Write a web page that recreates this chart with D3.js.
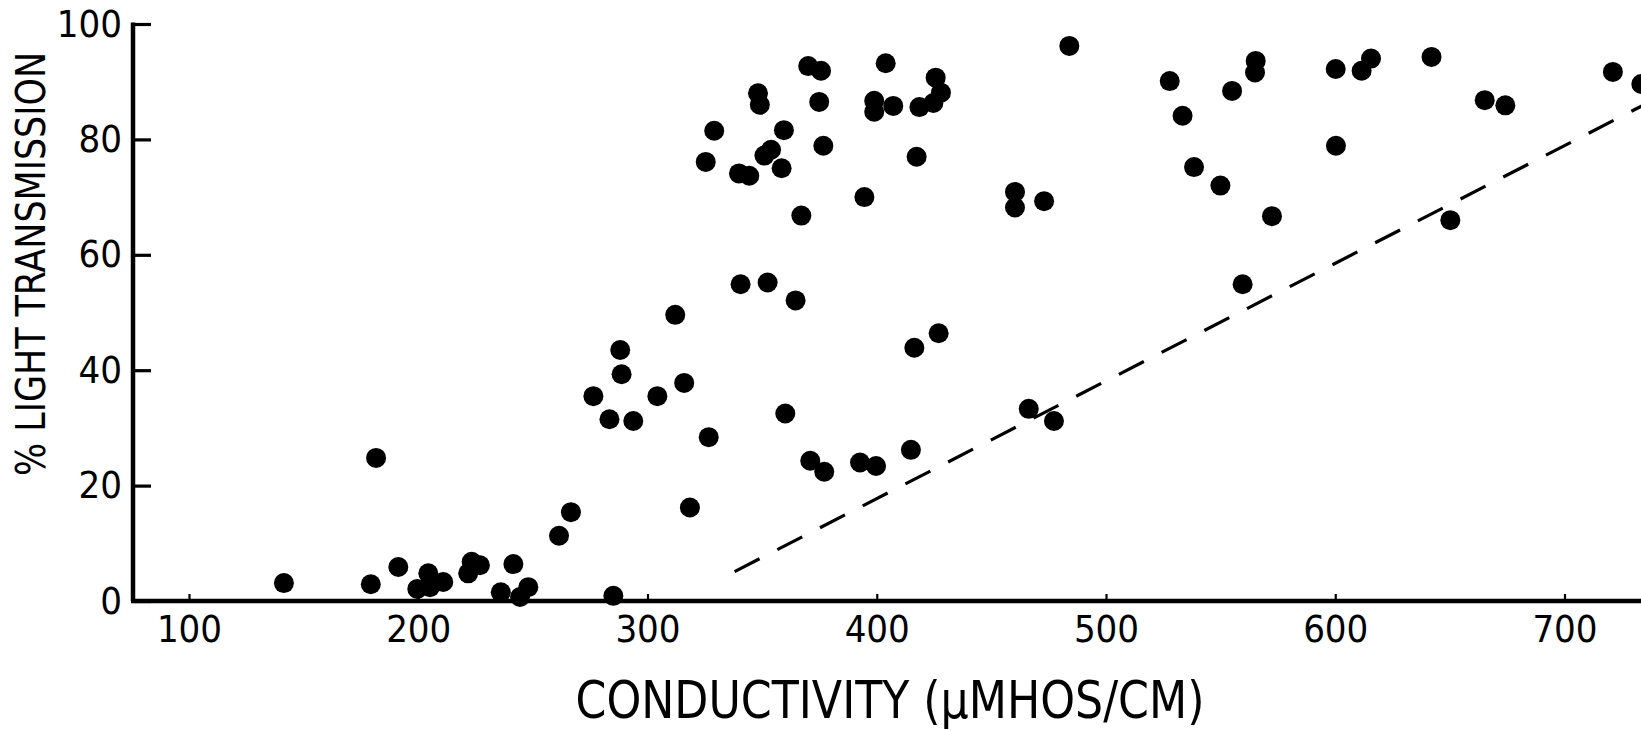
<!DOCTYPE html>
<html>
<head>
<meta charset="utf-8">
<script src="https://cdn.jsdelivr.net/npm/d3@7"></script>
<style>
  html, body { margin: 0; padding: 0; background: #fff; }
  svg { display: block; }
  text { font-family: "Liberation Sans Narrow", "DejaVu Sans Condensed", "Liberation Sans", sans-serif; fill: #000; }
</style>
</head>
<body>
<svg id="chart" width="1641" height="731"></svg>
<script>
// Conductivity (µmhos/cm) of each sample
const conductivity = [
  141.4, 179.3, 181.6, 191.3, 199.6, 204.4, 205.1, 210.9, 221.8, 223.3,
  226.9, 236.0, 241.5, 244.4, 248.0, 261.4, 266.6, 276.4, 283.4, 285.1,
  288.1, 288.7, 293.8, 304.3, 312.1, 316.0, 318.5, 326.7, 360.1, 364.6,
  371.0, 377.1, 392.7, 399.7, 414.9, 416.4, 427.0, 466.3, 477.3,
  484.0, 403.9, 370.1, 375.7, 348.2, 349.0, 374.9, 398.9, 398.9, 407.2,
  425.7, 428.0, 424.7, 418.6, 329.1, 325.4, 339.9, 344.4, 359.5, 353.9,
  351.0, 358.5, 376.7, 417.4, 394.6, 367.1, 460.3, 460.3, 473.0, 340.6,
  352.4,
  527.8, 533.4, 555.0, 565.3, 565.0, 538.4, 549.9, 572.4, 559.6, 600.2,
  611.5, 615.6, 600.3, 642.0, 665.2, 674.2, 650.2, 721.1, 733.5
];

// Percent light transmission of the same samples
const transmission = [
  3.1, 2.9, 24.8, 5.9, 2.1, 4.8, 2.4, 3.3, 4.8, 6.8,
  6.2, 1.5, 6.4, 0.7, 2.4, 11.3, 15.4, 35.5, 31.5, 0.9,
  43.5, 39.3, 31.2, 35.5, 49.6, 37.8, 16.2, 28.4, 32.5, 52.1,
  24.3, 22.4, 24.0, 23.4, 26.2, 43.9, 46.4, 33.3, 31.2,
  96.2, 93.2, 92.7, 91.9, 88.0, 86.0, 86.5, 86.7, 84.8, 85.8,
  90.7, 88.1, 86.3, 85.6, 81.5, 76.1, 74.1, 73.7, 81.6, 78.2,
  77.2, 75.0, 78.9, 77.0, 70.0, 66.8, 70.9, 68.2, 69.3, 54.9,
  55.2,
  90.1, 84.1, 88.4, 93.6, 91.6, 75.2, 72.0, 66.7, 54.9, 92.2,
  91.9, 94.0, 78.9, 94.3, 86.8, 85.9, 66.0, 91.7, 89.6
];

// Dashed boundary line, as two (conductivity, transmission) end points
const boundaryX = [338, 745];
const boundaryY = [5.1, 88.1];

const xTicks = [100, 200, 300, 400, 500, 600, 700];
const yTicks = [0, 20, 40, 60, 80, 100];

const xTitle = "CONDUCTIVITY (\u03BCMHOS/CM)";
const yTitle = "% LIGHT TRANSMISSION";

const svg = d3.select("#chart");
const W = 1641;

const x = d3.scaleLinear().domain([100, 700]).range([189, 1564.5]);
const y = d3.scaleLinear().domain([0, 100]).range([601, 24]);
const axisLeftX = 133;

// Points
svg.append("g")
  .selectAll("circle")
  .data(conductivity.map((c, i) => [c, transmission[i]]))
  .join("circle")
  .attr("cx", d => x(d[0]))
  .attr("cy", d => y(d[1]))
  .attr("r", 10)
  .attr("fill", "#000");

// Dashed boundary
svg.append("path")
  .datum(boundaryX.map((c, i) => [c, boundaryY[i]]))
  .attr("d", d3.line().x(d => x(d[0])).y(d => y(d[1])))
  .attr("fill", "none")
  .attr("stroke", "#000")
  .attr("stroke-width", 3.2)
  .attr("stroke-dasharray", "28 20");

// X axis: short upward ticks, labels beneath
const gx = svg.append("g")
  .attr("transform", `translate(0,${y(0)})`)
  .call(d3.axisBottom(x).tickValues(xTicks).tickFormat(d3.format("d"))
    .tickSizeInner(-7).tickSizeOuter(0).tickPadding(14));
gx.select(".domain").remove();
gx.selectAll(".tick line").attr("stroke", "#000").attr("stroke-width", 2.2);
gx.selectAll(".tick text").attr("font-size", 38).attr("fill", "#000");

// Y axis: ticks pointing into the plot
const gy = svg.append("g")
  .attr("transform", `translate(${axisLeftX},0)`)
  .call(d3.axisLeft(y).tickValues(yTicks).tickFormat(d3.format("d"))
    .tickSizeInner(-18).tickSizeOuter(0).tickPadding(11));
gy.select(".domain").remove();
gy.selectAll(".tick line").attr("stroke", "#000").attr("stroke-width", 3.2);
gy.selectAll(".tick text").attr("font-size", 38).attr("fill", "#000");

// Axis lines
svg.append("line")
  .attr("x1", axisLeftX - 2).attr("x2", W)
  .attr("y1", y(0)).attr("y2", y(0))
  .attr("stroke", "#000").attr("stroke-width", 4.5);
svg.append("line")
  .attr("x1", axisLeftX).attr("x2", axisLeftX)
  .attr("y1", y(100) - 1.5).attr("y2", y(0))
  .attr("stroke", "#000").attr("stroke-width", 4.5);

// Titles
svg.append("text")
  .attr("x", 890).attr("y", 718)
  .attr("text-anchor", "middle")
  .attr("font-size", 52)
  .attr("textLength", 629)
  .attr("lengthAdjust", "spacingAndGlyphs")
  .text(xTitle);

svg.append("text")
  .attr("transform", "translate(45,264) rotate(-90)")
  .attr("text-anchor", "middle")
  .attr("font-size", 40)
  .attr("textLength", 424)
  .attr("lengthAdjust", "spacingAndGlyphs")
  .text(yTitle);
</script>
</body>
</html>
